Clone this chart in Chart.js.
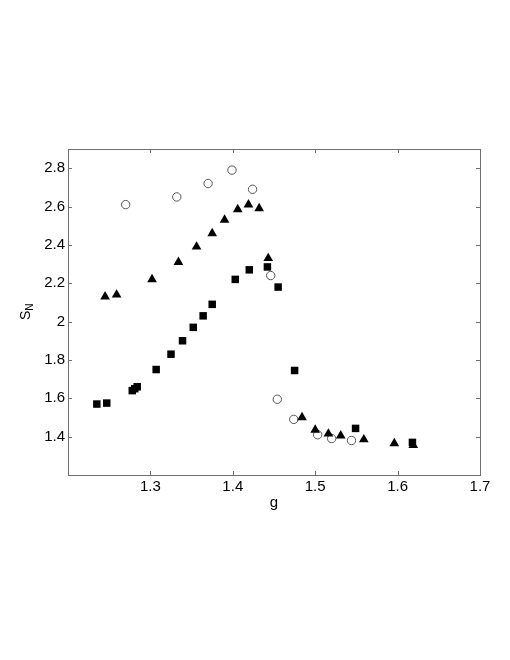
<!DOCTYPE html>
<html>
<head>
<meta charset="utf-8">
<script src="https://cdn.jsdelivr.net/npm/chart.js@4"></script>
<style>
  html, body { margin: 0; padding: 0; background: #fff; }
  #wrap { width: 510px; height: 660px; position: relative; }
</style>
</head>
<body>
<div id="wrap"><canvas id="c"></canvas></div>
<script>
// open circles
const circleG = [1.270, 1.332, 1.370, 1.399, 1.424, 1.446, 1.454, 1.474, 1.503, 1.520, 1.544];
const circleS = [2.61, 2.65, 2.72, 2.79, 2.69, 2.24, 1.595, 1.49, 1.41, 1.39, 1.38];

// filled triangles
const triG = [1.245, 1.259, 1.302, 1.334, 1.356, 1.375, 1.390, 1.406, 1.419, 1.432, 1.443,
              1.484, 1.500, 1.516, 1.531, 1.559, 1.596, 1.619];
const triS = [2.13, 2.14, 2.22, 2.31, 2.39, 2.46, 2.53, 2.585, 2.61, 2.59, 2.33,
              1.50, 1.435, 1.415, 1.405, 1.385, 1.365, 1.355];

// filled squares
const sqG = [1.235, 1.247, 1.278, 1.281, 1.284, 1.307, 1.325, 1.339, 1.352, 1.364, 1.375,
             1.403, 1.420, 1.442, 1.455, 1.475, 1.549, 1.618];
const sqS = [1.57, 1.575, 1.64, 1.65, 1.66, 1.75, 1.83, 1.90, 1.97, 2.03, 2.09,
             2.22, 2.27, 2.285, 2.18, 1.745, 1.443, 1.37];

const xTicks = [1.3, 1.4, 1.5, 1.6, 1.7];
const yTicks = [1.4, 1.6, 1.8, 2, 2.2, 2.4, 2.6, 2.8];

const toPts = (xs, ys) => xs.map((v, i) => ({ x: v, y: ys[i] }));
const FONT = '"Liberation Sans", Arial, Helvetica, sans-serif';

// box, inward ticks and axis titles
const frame = {
    id: 'frame',
    afterDraw(chart) {
        const { ctx, chartArea: a, scales: { x, y } } = chart;
        ctx.save();
        ctx.strokeStyle = '#707070';
        ctx.lineWidth = 1;
        ctx.strokeRect(a.left + 0.5, a.top + 0.5, a.right - a.left, a.bottom - a.top);
        ctx.beginPath();
        xTicks.forEach(t => {
            const px = Math.round(x.getPixelForValue(t)) + 0.5;
            ctx.moveTo(px, a.bottom); ctx.lineTo(px, a.bottom - 4);
            ctx.moveTo(px, a.top); ctx.lineTo(px, a.top + 4);
        });
        yTicks.forEach(t => {
            const py = Math.round(y.getPixelForValue(t)) + 0.5;
            ctx.moveTo(a.left, py); ctx.lineTo(a.left + 4, py);
            ctx.moveTo(a.right, py); ctx.lineTo(a.right - 4, py);
        });
        ctx.stroke();

        ctx.fillStyle = '#000';
        ctx.font = '15px ' + FONT;
        ctx.textAlign = 'center';
        ctx.textBaseline = 'alphabetic';
        ctx.fillText('g', (a.left + a.right) / 2, 507);

        // S with subscript N, rotated
        ctx.translate(30, (a.top + a.bottom) / 2);
        ctx.rotate(-Math.PI / 2);
        ctx.textAlign = 'left';
        ctx.font = '14px ' + FONT;
        const w = ctx.measureText('S').width;
        ctx.fillText('S', -8, 0);
        ctx.font = '10px ' + FONT;
        ctx.fillText('N', -8 + w, 3);
        ctx.restore();
    }
};

new Chart(document.getElementById('c'), {
    type: 'scatter',
    data: {
        datasets: [{
            data: toPts(sqG, sqS),
            pointStyle: 'rect',
            pointRadius: 5.3,
            backgroundColor: '#000',
            borderColor: '#000',
            borderWidth: 0
        }, {
            data: toPts(triG, triS),
            pointStyle: 'triangle',
            pointRadius: 5.6,
            backgroundColor: '#000',
            borderColor: '#000',
            borderWidth: 0
        }, {
            data: toPts(circleG, circleS),
            pointStyle: 'circle',
            pointRadius: 4.2,
            backgroundColor: 'rgba(0,0,0,0)',
            borderColor: '#555',
            borderWidth: 1
        }]
    },
    options: {
        responsive: true,
        maintainAspectRatio: false,
        animation: false,
        layout: { padding: { left: 0, top: 149, right: 30, bottom: 0 } },
        plugins: {
            legend: { display: false },
            tooltip: { enabled: false }
        },
        scales: {
            x: {
                type: 'linear',
                min: 1.2,
                max: 1.7,
                afterBuildTicks: s => { s.ticks = xTicks.map(v => ({ value: v })); },
                afterFit: s => { s.height = 185; },
                grid: { display: false, drawTicks: false },
                border: { display: false },
                ticks: {
                    padding: 3,
                    color: '#000',
                    font: { family: FONT, size: 15 },
                    maxRotation: 0,
                    callback: v => String(v)
                }
            },
            y: {
                type: 'linear',
                min: 1.2,
                max: 2.9,
                afterBuildTicks: s => { s.ticks = yTicks.map(v => ({ value: v })); },
                afterFit: s => { s.width = 68; },
                grid: { display: false, drawTicks: false },
                border: { display: false },
                ticks: {
                    padding: 3,
                    color: '#000',
                    font: { family: FONT, size: 15 },
                    callback: v => String(v)
                }
            }
        }
    },
    plugins: [frame]
});
</script>
</body>
</html>
